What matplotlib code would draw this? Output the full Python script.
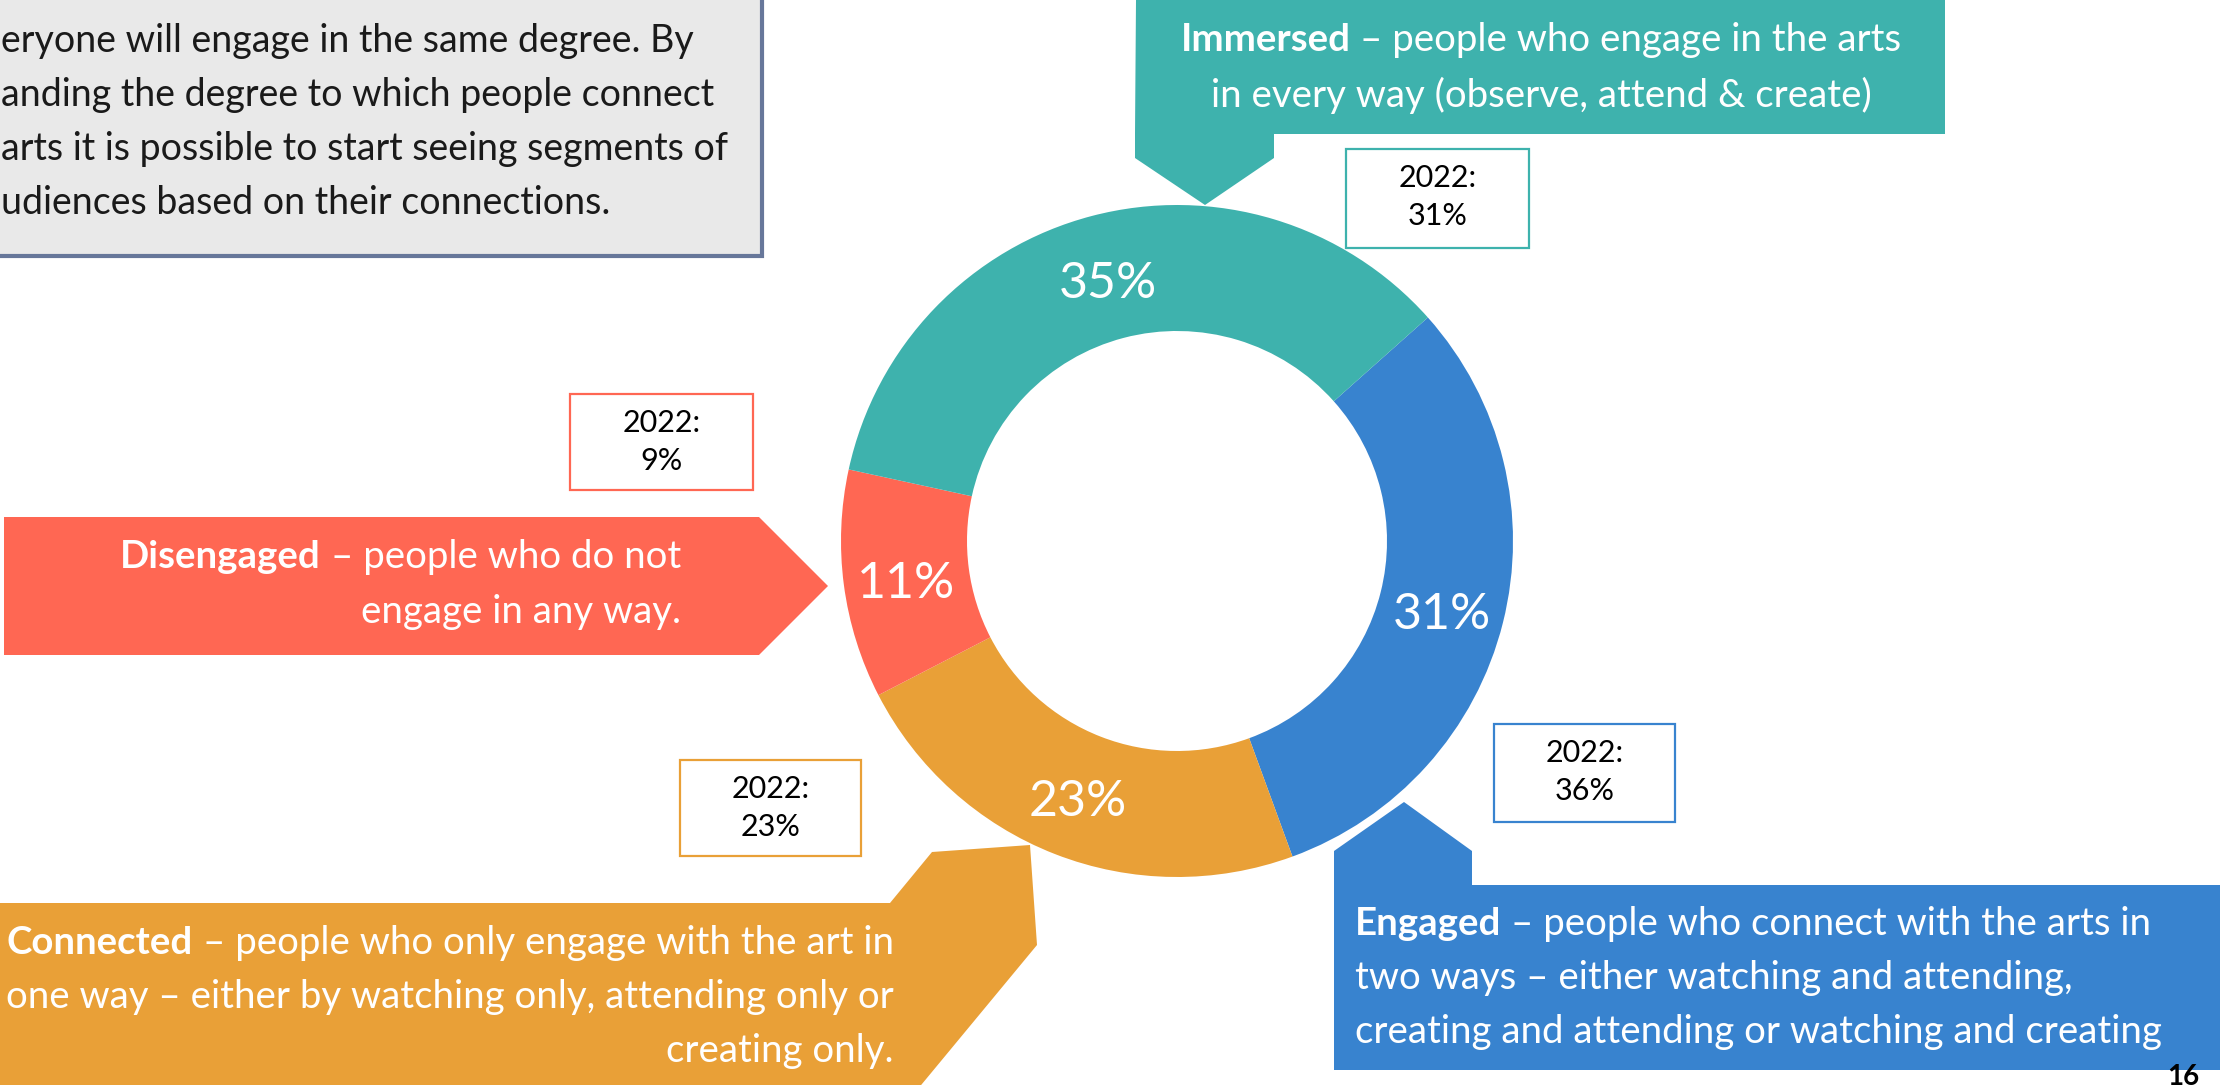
import matplotlib
matplotlib.use("Agg")
import matplotlib.pyplot as plt
from matplotlib.patches import Polygon, Rectangle

W, H = 2220, 1085
FONT = "Lato"

# ---------------- data ----------------
segments = ["Engaged", "Connected", "Disengaged", "Immersed"]
values_2023 = [31, 23, 11, 35]
values_2022 = [36, 23, 9, 31]
seg_colors = ["#3883CF", "#E9A037", "#FF6753", "#3EB2AD"]

intro_lines = [
    "eryone will engage in the same degree. By",
    "anding the degree to which people connect",
    "arts it is possible to start seeing segments of",
    "udiences based on their connections.",
]
immersed_lines = [[("Immersed", "bold"), ("– people who engage in the arts", "normal")],
                  [("in every way (observe, attend & create)", "normal")]]
disengaged_lines = [[("Disengaged", "bold"), ("– people who do not", "normal")],
                    [("engage in any way.", "normal")]]
connected_lines = [[("Connected", "bold"), ("– people who only engage with the art in", "normal")],
                   [("one way – either by watching only, attending only or", "normal")],
                   [("creating only.", "normal")]]
engaged_lines = [[("Engaged", "bold"), ("– people who connect with the arts in", "normal")],
                 [("two ways – either watching and attending,", "normal")],
                 [("creating and attending or watching and creating", "normal")]]
page_number = "16"

# ---------------- figure ----------------
fig = plt.figure(figsize=(W / 100, H / 100), dpi=100)
ax = fig.add_axes([0, 0, 1, 1])
renderer = fig.canvas.get_renderer()

TXT = 27.6


def Y(y):
    return H - y


def rich_line(parts, x, y, ha, size, color="white"):
    texts = []
    for s, w in parts:
        t = ax.text(0, Y(y), s, fontsize=size, fontweight=w, color=color,
                    va="center", ha="left", family=FONT, zorder=5)
        texts.append(t)
    widths = [t.get_window_extent(renderer).width for t in texts]
    sp = ax.text(0, 0, "a a", fontsize=size, family=FONT)
    sp2 = ax.text(0, 0, "aa", fontsize=size, family=FONT)
    gap = sp.get_window_extent(renderer).width - sp2.get_window_extent(renderer).width
    sp.remove(); sp2.remove()
    total = sum(widths) + gap * (len(texts) - 1)
    if ha == "left":
        x0 = x
    elif ha == "right":
        x0 = x - total
    else:
        x0 = x - total / 2
    for t, w in zip(texts, widths):
        t.set_x(x0)
        x0 += w + gap


# ---------------- donut ----------------
cx, cy, R, ring = 1177, 541, 336, 126
wedges, _, autotexts = ax.pie(
    values_2023, colors=seg_colors, startangle=41.7, counterclock=False,
    radius=R, center=(cx, Y(cy)),
    wedgeprops=dict(width=ring, edgecolor="none"),
    autopct=lambda p: f"{p:.0f}%", pctdistance=(R - ring / 2) / R,
    textprops=dict(color="white", fontsize=36, family=FONT))
for t in autotexts:
    px, py = t.get_position()
    t.set_position((px, py - 7))

# ---------------- intro grey box ----------------
ax.add_patch(Rectangle((-20, Y(256)), 782, 300, facecolor="#E9E9E9",
                       edgecolor="#67779A", lw=3, zorder=1))
for i, line in enumerate(intro_lines):
    ax.text(1, Y(41 + 54 * i), line, fontsize=27, family=FONT,
            color="#1a1a1a", va="center", ha="left", zorder=2)

# ---------------- callouts ----------------
teal, blue, orange, red = seg_colors[3], seg_colors[0], seg_colors[1], seg_colors[2]

immersed_poly = [(1136, 0), (1945, 0), (1945, 134), (1274, 134), (1274, 158),
                 (1205, 205), (1135, 158), (1135, 134)]
ax.add_patch(Polygon([(x, Y(y)) for x, y in immersed_poly], closed=True,
                     facecolor=teal, edgecolor="none", zorder=3))
for i, parts in enumerate(immersed_lines):
    rich_line(parts, 1541, 40 + 55 * i, "center", TXT)

dis_poly = [(4, 517), (759, 517), (828, 586), (759, 655), (4, 655)]
ax.add_patch(Polygon([(x, Y(y)) for x, y in dis_poly], closed=True,
                     facecolor=red, edgecolor="none", zorder=3))
for i, parts in enumerate(disengaged_lines):
    rich_line(parts, 681, 557 + 55 * i, "right", TXT)

con_poly = [(-5, 903), (890, 903), (932, 852), (1030, 845), (1037, 945),
            (917, 1090), (-5, 1090)]
ax.add_patch(Polygon([(x, Y(y)) for x, y in con_poly], closed=True,
                     facecolor=orange, edgecolor="none", zorder=3))
for i, parts in enumerate(connected_lines):
    rich_line(parts, 894, 943 + 54 * i, "right", TXT)

eng_poly = [(1334, 1070), (1334, 851), (1404, 802), (1472, 851), (1472, 885),
            (2225, 885), (2225, 1070)]
ax.add_patch(Polygon([(x, Y(y)) for x, y in eng_poly], closed=True,
                     facecolor=blue, edgecolor="none", zorder=3))
for i, parts in enumerate(engaged_lines):
    rich_line(parts, 1355, 924 + 54 * i, "left", TXT)

# ---------------- 2022 boxes ----------------
box_pos = {  # left, top, right, bottom (pixels)
    "Engaged": (1494, 724, 1675, 822),
    "Connected": (680, 760, 861, 856),
    "Disengaged": (570, 394, 753, 490),
    "Immersed": (1346, 149, 1529, 248),
}
for seg, val, col in zip(segments, values_2022, seg_colors):
    l, t, r, b = box_pos[seg]
    ax.add_patch(Rectangle((l, Y(b)), r - l, b - t, facecolor="white",
                           edgecolor=col, lw=1.6, zorder=4))
    xc = (l + r) / 2
    ax.text(xc, Y(t + 29), "2022:", fontsize=22, family=FONT, color="black",
            ha="center", va="center", zorder=5)
    ax.text(xc, Y(t + 67), f"{val}%", fontsize=22, family=FONT, color="black",
            ha="center", va="center", zorder=5)

ax.text(2183, Y(1064), page_number, fontsize=20, family=FONT, fontweight="bold",
        color="black", ha="center", va="top", zorder=5)

ax.set_xlim(0, W)
ax.set_ylim(0, H)
ax.set_aspect("equal")
ax.axis("off")
fig.savefig("out.png", dpi=100, facecolor="white")
